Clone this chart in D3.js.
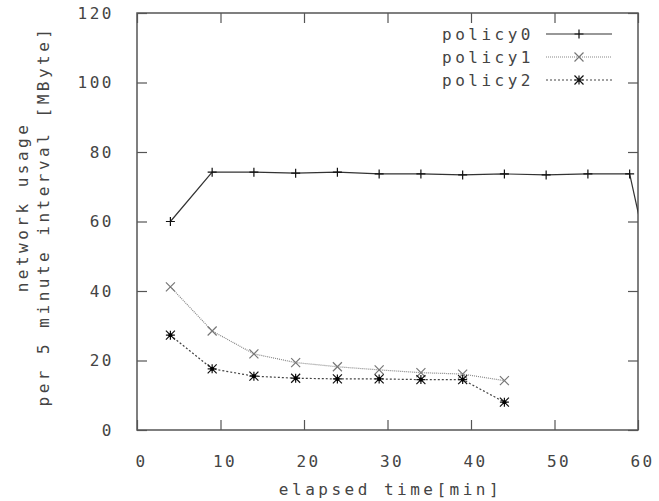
<!DOCTYPE html>
<html>
<head>
<meta charset="utf-8">
<script src="https://cdn.jsdelivr.net/npm/d3@7"></script>
<style>
body { margin: 0; background: #fff; }
text { font-family: "DejaVu Sans Mono", monospace; font-size: 16px; fill: #444; letter-spacing: 3.5px; }
.tick text { letter-spacing: 2.5px; }
.tick line { stroke: #555; stroke-width: 1.2; }
</style>
</head>
<body>
<svg width="659" height="501"></svg>
<script>
// values
var times0 = [4, 9, 14, 19, 24, 29, 34, 39, 44, 49, 54, 59, 64];
var policy0 = [60, 74.2, 74.2, 73.9, 74.2, 73.7, 73.7, 73.4, 73.7, 73.4, 73.7, 73.7, 19];
var times12 = [4, 9, 14, 19, 24, 29, 34, 39, 44];
var policy1 = [41.2, 28.5, 21.9, 19.4, 18.2, 17.3, 16.5, 16.1, 14.2];
var policy2 = [27.3, 17.6, 15.5, 14.9, 14.7, 14.7, 14.5, 14.5, 8.0];
var xTicks = [0, 10, 20, 30, 40, 50, 60];
var yTicks = [0, 20, 40, 60, 80, 100, 120];
var seriesNames = ["policy0", "policy1", "policy2"];

var svg = d3.select("svg"),
    margin = { top: 13, right: 21, bottom: 71, left: 137 },
    width = +svg.attr("width") - margin.left - margin.right,
    height = +svg.attr("height") - margin.top - margin.bottom;

var x = d3.scaleLinear().domain([0, 60]).range([0, width]);
var y = d3.scaleLinear().domain([0, 120]).range([height, 0]);

var g = svg.append("g")
    .attr("transform", "translate(" + margin.left + "," + margin.top + ")");

g.append("clipPath").attr("id", "clip")
  .append("rect").attr("width", width).attr("height", height);

// axes, ticks pointing inward like gnuplot
var ax = g.append("g").attr("transform", "translate(0," + height + ")")
    .call(d3.axisBottom(x).tickValues(xTicks).tickSize(-10).tickPadding(26));
var ay = g.append("g")
    .call(d3.axisLeft(y).tickValues(yTicks).tickSize(-10).tickPadding(23));
g.append("g").call(d3.axisTop(x).tickValues(xTicks).tickSize(-10).tickFormat(""));
g.append("g").attr("transform", "translate(" + width + ",0)")
    .call(d3.axisRight(y).tickValues(yTicks).tickSize(-10).tickFormat(""));
g.selectAll(".domain").remove();
g.selectAll(".tick text").attr("font-family", null).attr("font-size", null).attr("fill", null);
ax.selectAll("text").attr("dx", "4px");

g.append("rect")
    .attr("width", width).attr("height", height)
    .attr("fill", "none").attr("stroke", "#555").attr("stroke-width", 1.5);

// markers
var plus = "M-4.5,0H4.5M0,-4.5V4.5";
var cross = "M-4.5,-4.5L4.5,4.5M-4.5,4.5L4.5,-4.5";
var star = plus + cross;

var styles = [
  { color: "#333", dash: null, mark: plus, mcolor: "#111" },
  { color: "#888", dash: "1,1", mark: cross, mcolor: "#777" },
  { color: "#444", dash: "2,2", mark: star, mcolor: "#111" }
];

var sets = [
  times0.map((t, i) => [t, policy0[i]]),
  times12.map((t, i) => [t, policy1[i]]),
  times12.map((t, i) => [t, policy2[i]])
];

var line = d3.line().x(d => x(d[0])).y(d => y(d[1]));

sets.forEach(function (data, k) {
  var s = styles[k];
  var sg = g.append("g").attr("clip-path", "url(#clip)");
  sg.append("path")
      .datum(data)
      .attr("d", line)
      .attr("fill", "none")
      .attr("stroke", s.color)
      .attr("stroke-width", 1.2)
      .attr("stroke-dasharray", s.dash);
  sg.selectAll(".pt")
      .data(data.filter(d => d[0] <= 60))
      .enter().append("path")
      .attr("d", s.mark)
      .attr("transform", d => "translate(" + x(d[0]) + "," + y(d[1]) + ")")
      .attr("fill", "none")
      .attr("stroke", s.mcolor)
      .attr("stroke-width", 1.2);
  if (k == 2) {
    sg.selectAll(".dot").data(data).enter().append("circle")
      .attr("cx", d => x(d[0])).attr("cy", d => y(d[1])).attr("r", 2).attr("fill", "#000");
  }
});

// legend
var lg = svg.append("g");
seriesNames.forEach(function (name, k) {
  var s = styles[k], ly = 34 + k * 23;
  lg.append("text").attr("x", 534).attr("y", ly).attr("dy", "0.35em")
    .attr("text-anchor", "end").text(name);
  lg.append("line").attr("x1", 546).attr("x2", 612).attr("y1", ly).attr("y2", ly)
    .attr("stroke", s.color).attr("stroke-width", 1.2).attr("stroke-dasharray", s.dash);
  lg.append("path").attr("d", s.mark).attr("transform", "translate(579," + ly + ")")
    .attr("fill", "none").attr("stroke", s.mcolor).attr("stroke-width", 1.2);
});

// axis titles
svg.append("text")
    .attr("x", margin.left + width / 2 + 3).attr("y", 489).attr("dy", "0.35em")
    .attr("text-anchor", "middle")
    .text("elapsed time[min]");

svg.append("text")
    .attr("transform", "translate(22,207) rotate(-90)")
    .attr("text-anchor", "middle").attr("dy", "0.35em")
    .text("network usage");
svg.append("text")
    .attr("transform", "translate(43,216) rotate(-90)")
    .attr("text-anchor", "middle").attr("dy", "0.35em")
    .text("per 5 minute interval [MByte]");
</script>
</body>
</html>
